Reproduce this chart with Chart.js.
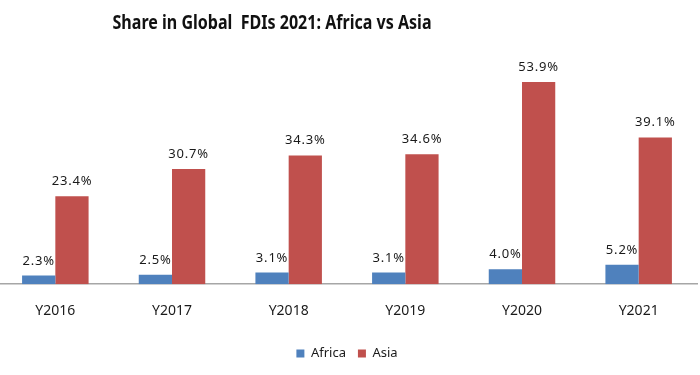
<!DOCTYPE html>
<html>
<head>
<meta charset="utf-8">
<script src="https://cdn.jsdelivr.net/npm/chart.js@4"></script>
<style>
  html, body { margin: 0; padding: 0; background: #fff; overflow: hidden; }
  canvas { display: block; margin-left: -3px; }
</style>
</head>
<body>
<canvas id="chart" width="703" height="375"></canvas>
<script>
const years = ['Y2016', 'Y2017', 'Y2018', 'Y2019', 'Y2020', 'Y2021'];
const africa = [2.3, 2.5, 3.1, 3.1, 4.0, 5.2];
const asia = [23.4, 30.7, 34.3, 34.6, 53.9, 39.1];
const titleText = 'Share in Global  FDIs 2021: Africa vs Asia';

const FONT = '"Noto Sans", sans-serif';

// value labels above each bar + the (off-centre) title
const barLabels = {
  id: 'barLabels',
  afterDatasetsDraw(chart) {
    const ctx = chart.ctx;
    ctx.save();
    ctx.font = '13px ' + FONT;
    ctx.letterSpacing = '0.8px';
    ctx.fillStyle = '#1a1a1a';
    ctx.textAlign = 'center';
    ctx.textBaseline = 'alphabetic';
    chart.data.datasets.forEach((ds, i) => {
      chart.getDatasetMeta(i).data.forEach((bar, j) => {
        ctx.fillText(ds.data[j].toFixed(1) + '%', bar.x, bar.y - 11);
      });
    });
    ctx.letterSpacing = '0px';
    ctx.font = 'bold 20px ' + FONT;
    ctx.fillStyle = '#111';
    ctx.fillText(titleText, 275, 29, 319);
    ctx.restore();
  }
};

new Chart(document.getElementById('chart'), {
  type: 'bar',
  data: {
    labels: years,
    datasets: [
      { label: 'Africa', data: africa, backgroundColor: '#4F81BD' },
      { label: 'Asia', data: asia, backgroundColor: '#C0504D' }
    ]
  },
  options: {
    responsive: false,
    animation: false,
    layout: { padding: { left: 0, right: 3, top: 59, bottom: 5 } },
    datasets: { bar: { categoryPercentage: 0.57, barPercentage: 1 } },
    scales: {
      x: {
        grid: { display: false },
        border: { display: true, color: '#A6A6A6', width: 1.5 },
        ticks: { color: '#1a1a1a', font: { family: FONT, size: 14 }, padding: 10 },
        afterFit: (scale) => { scale.height += 6; }
      },
      y: { display: false, min: 0, max: 60 }
    },
    plugins: {
      title: { display: false },
      legend: {
        position: 'bottom',
        labels: {
          color: '#1a1a1a',
          font: { family: FONT, size: 13 },
          boxWidth: 8,
          boxHeight: 8,
          padding: 12
        }
      },
      tooltip: { enabled: false }
    }
  },
  plugins: [barLabels]
});
</script>
</body>
</html>
